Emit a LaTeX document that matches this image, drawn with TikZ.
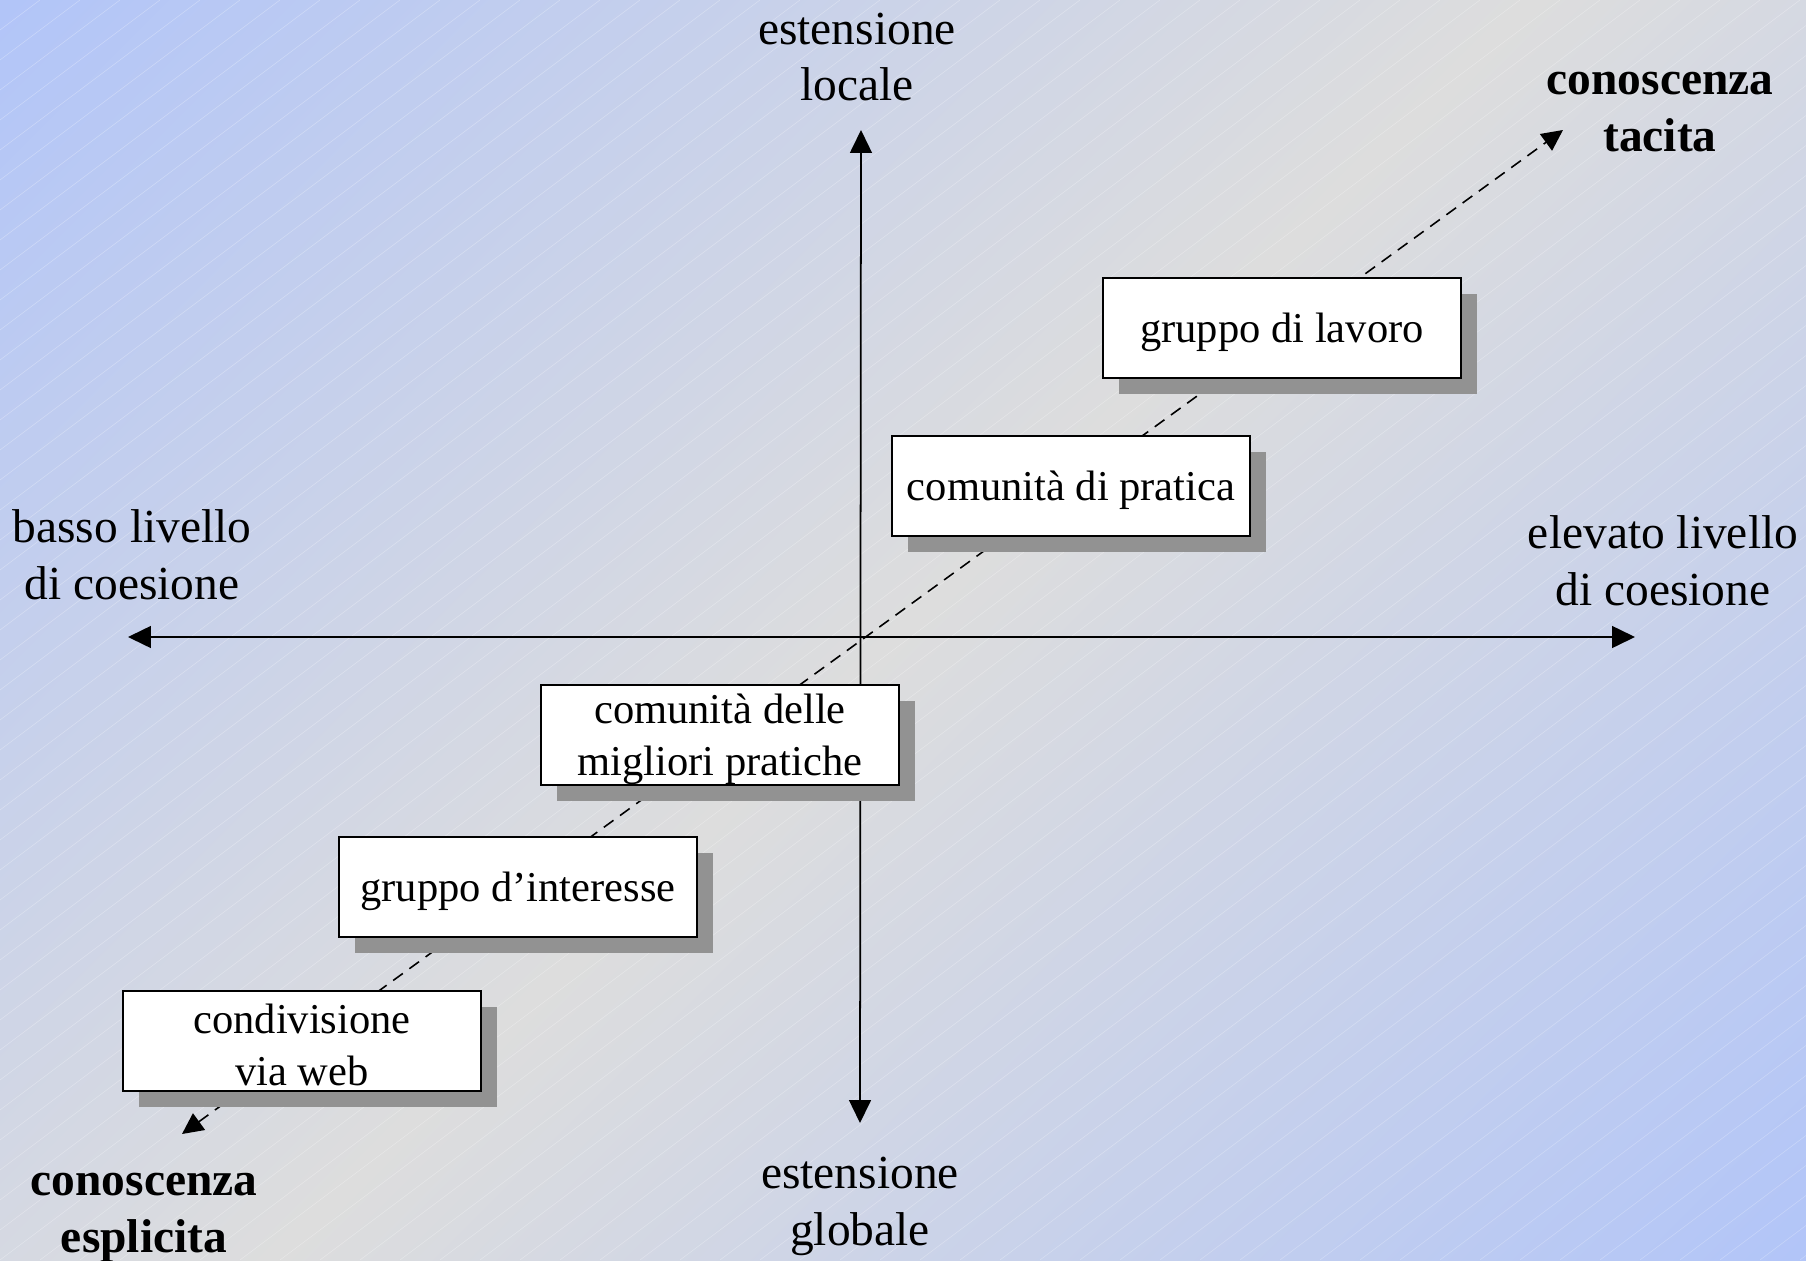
\documentclass[tikz,border=0pt]{standalone}
\usepackage{fontspec}
\setmainfont{Liberation Serif}
\usetikzlibrary{arrows.meta,shadows}
\definecolor{bgblue}{RGB}{178,197,248}
\definecolor{bggray}{RGB}{221,221,221}
\definecolor{shadowgray}{RGB}{146,146,146}
\pgfdeclarehorizontalshading{bgshade}{100bp}{color(0bp)=(bgblue); color(14.65bp)=(bgblue); color(50bp)=(bggray); color(85.35bp)=(bgblue); color(100bp)=(bgblue)}
\newcommand{\topstrut}{\rule{0pt}{10.6pt}}
\tikzset{
  levelbox/.style={draw, fill=white, line width=0.6pt, minimum width=3.58cm,
    minimum height=1cm, inner sep=0pt, align=center,
    font=\fontsize{12.1}{14.8}\selectfont,
    execute at begin node={\rule{0pt}{10.9pt}},
    drop shadow={shadow xshift=0.16cm, shadow yshift=-0.16cm, fill=shadowgray, opacity=1}},
  axislabel/.style={align=center, font=\fontsize{13.5}{16.2}\selectfont},
  knowlabel/.style={align=center, font=\fontsize{13.5}{16.2}\selectfont\bfseries},
  axisline/.style={line width=0.5pt, {Triangle[length=6.5pt,width=6.2pt]}-{Triangle[length=6.5pt,width=6.2pt]}},
  knowline/.style={line width=0.45pt, dash pattern=on 3.4pt off 2.3pt,
    {Triangle[length=6pt,width=5.8pt]}-{Triangle[length=6pt,width=5.8pt]}},
  hatchline/.style={white, opacity=0.3, line width=0.15pt}
}
\begin{document}
\begin{tikzpicture}
  \useasboundingbox (0,0) rectangle (18.06,12.60);
  \shade[shading=bgshade, shading angle=-45] (0,0) rectangle (18.06,12.60);
  \begin{scope}
    \clip (0,0) rectangle (18.06,12.60);
    \foreach \i in {0,...,88}
      \draw[hatchline] ({\i*0.4-16.8},0) -- ++(16.8,12.6);
  \end{scope}

  \coordinate (up) at (8.61,11.30);
  \coordinate (down) at (8.60,1.37);
  \coordinate (left) at (1.28,6.23);
  \coordinate (right) at (16.35,6.23);
  \coordinate (tacitatip) at (15.63,11.30);
  \coordinate (esplicitatip) at (1.82,1.26);

  \draw[knowline] (esplicitatip) -- (tacitatip);
  \draw[axisline] (down) -- (up);
  \draw[axisline] (left) -- (right);

  \node[levelbox] (lavoro) at (12.82,9.32) {gruppo di lavoro};
  \node[levelbox] (pratica) at (10.71,7.74) {comunità di pratica};
  \node[levelbox] (migliori) at (7.20,5.25) {\topstrut comunità delle\\migliori pratiche};
  \node[levelbox] (interesse) at (5.18,3.73) {gruppo d’interesse};
  \node[levelbox] (web) at (3.02,2.19) {\topstrut condivisione\\via web};

  \node[axislabel] (locale) at (8.57,12.03) {estensione\\locale};
  \node[axislabel] (globale) at (8.60,0.54) {estensione\\globale};
  \node[axislabel] (basso) at (1.32,7.05) {basso livello\\di coesione};
  \node[axislabel] (elevato) at (16.63,6.99) {elevato livello\\di coesione};
  \node[knowlabel] (tacita) at (16.60,11.48) {conoscenza\\tacita};
  \node[knowlabel] (esplicita) at (1.44,0.42) {conoscenza\\esplicita};
\end{tikzpicture}
\end{document}
